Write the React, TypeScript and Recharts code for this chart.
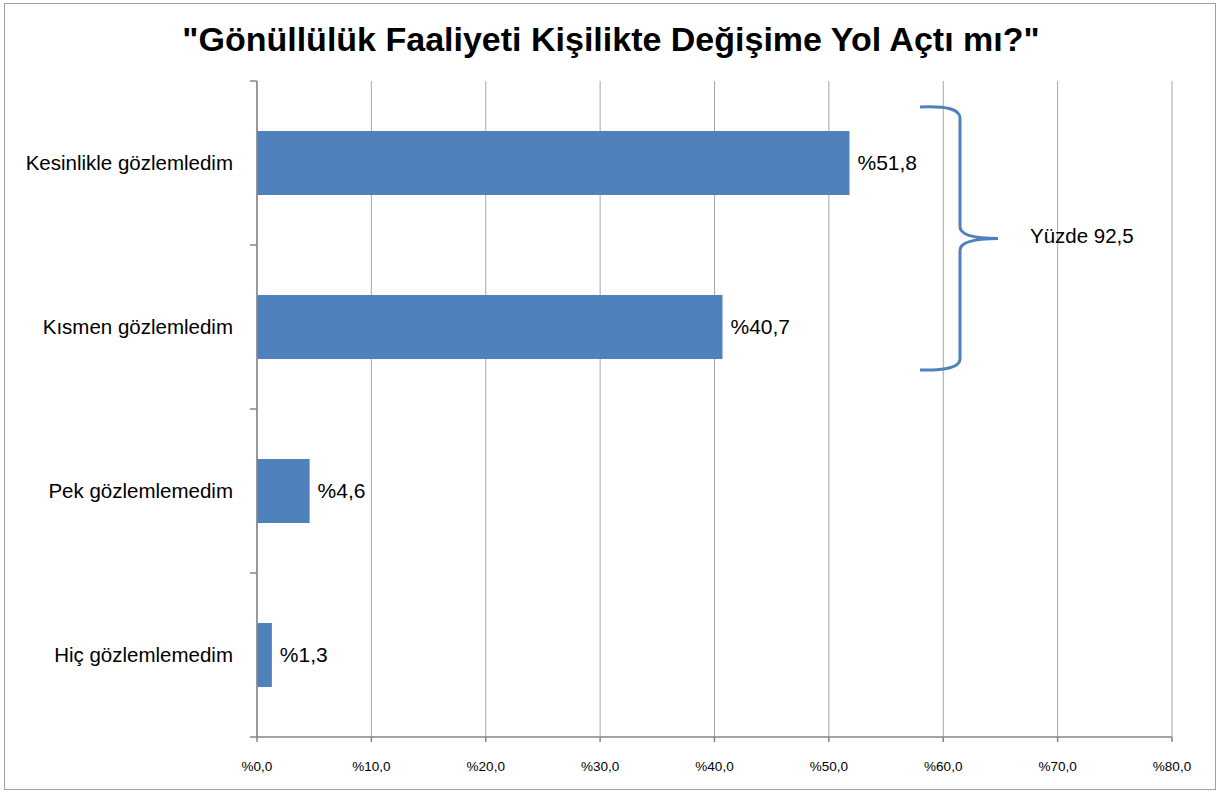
import { BarChart, Bar, XAxis, YAxis, CartesianGrid, LabelList, Customized } from 'recharts';

const categories = ['Kesinlikle gözlemledim', 'Kısmen gözlemledim', 'Pek gözlemlemedim', 'Hiç gözlemlemedim'];
const percents = [51.8, 40.7, 4.6, 1.3];
const xTicks = [0, 10, 20, 30, 40, 50, 60, 70, 80];
const title = '"Gönüllülük Faaliyeti Kişilikte Değişime Yol Açtı mı?"';
const braceLabel = 'Yüzde 92,5';

const data = categories.map((name, i) => ({ name, value: percents[i] }));

const W = 1222;
const H = 794;
const LEFT = 257;
const TOP = 81;
const RIGHT = 50;
const BOTTOM = 57;
const PLOT_H = H - TOP - BOTTOM;
const FONT = '"Liberation Sans", Arial, sans-serif';
const BLUE = '#4f81bd';

const fmt = (v: number) => '%' + v.toFixed(1).replace('.', ',');

// Title, category boundary ticks and the brace annotation
function Overlay() {
  const band = PLOT_H / categories.length;
  const ticks = Array.from({ length: categories.length + 1 }, (_, i) => TOP + i * band);
  const bx = 960;
  const top = TOP + 26;
  const bot = top + 263;
  const mid = (top + bot) / 2;
  const brace = `M${bx - 40},${top} Q${bx},${top - 2} ${bx},${top + 11} L${bx},${mid - 12} Q${bx},${mid} ${bx + 38},${mid} Q${bx},${mid} ${bx},${mid + 12} L${bx},${bot - 11} Q${bx},${bot + 1} ${bx - 40},${bot}`;
  return (
    <g>
      <text x={611} y={51} textAnchor="middle" fontFamily={FONT} fontWeight="bold" fontSize={34} fill="#000">
        {title}
      </text>
      {ticks.map((y) => (
        <line key={y} x1={LEFT - 7} x2={LEFT} y1={y} y2={y} stroke="#868686" strokeWidth={1.5} />
      ))}
      <path d={brace} fill="none" stroke={BLUE} strokeWidth={3} />
      <text x={1030} y={mid + 4} fontFamily={FONT} fontSize={20.5} fill="#000">
        {braceLabel}
      </text>
    </g>
  );
}

export default function App() {
  return (
    <div style={{ position: 'absolute', left: 0, top: 0, width: W, height: H, background: '#fff' }}>
      <div style={{ position: 'absolute', left: 4, top: 3, width: 1210, height: 785, border: '1.5px solid #a0a0a0' }} />
      <BarChart
        width={W}
        height={H}
        data={data}
        layout="vertical"
        margin={{ top: TOP, right: RIGHT, bottom: BOTTOM - 30, left: 0 }}
      >
        <CartesianGrid horizontal={false} vertical={true} stroke="#a6a6a6" />
        <XAxis
          type="number"
          domain={[0, 80]}
          ticks={xTicks}
          tickFormatter={fmt}
          height={30}
          interval={0}
          stroke="#868686"
          strokeWidth={1.5}
          tickSize={5}
          tickMargin={19}
          tick={{ fill: '#000', fontSize: 13.5, fontFamily: FONT }}
        />
        <YAxis
          type="category"
          dataKey="name"
          width={LEFT}
          stroke="#868686"
          strokeWidth={1.5}
          tickLine={false}
          tickMargin={18}
          tick={{ fill: '#000', fontSize: 20.5, fontFamily: FONT }}
        />
        <Bar dataKey="value" fill={BLUE} barSize={64} isAnimationActive={false}>
          <LabelList dataKey="value" position="right" offset={8} formatter={(v: any) => fmt(Number(v))} style={{ fill: '#000', fontSize: 21, fontFamily: FONT }} />
        </Bar>
        <Customized component={Overlay} />
      </BarChart>
    </div>
  );
}
